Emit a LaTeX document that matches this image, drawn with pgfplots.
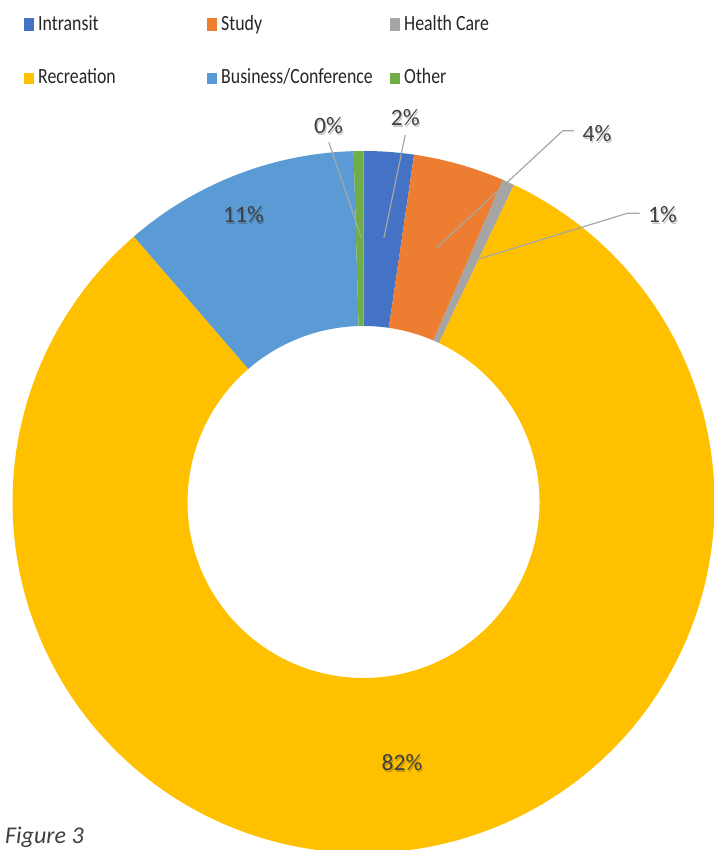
\documentclass[border=0pt]{standalone}
\usepackage{fontspec}
\setmainfont{Carlito}
\usepackage{pgfplots}
\usepackage{pgfplotstable}
\pgfplotsset{compat=1.18}

\definecolor{slice0}{HTML}{4472C4}
\definecolor{slice1}{HTML}{ED7D31}
\definecolor{slice2}{HTML}{A5A5A5}
\definecolor{slice3}{HTML}{FFC000}
\definecolor{slice4}{HTML}{5B9BD5}
\definecolor{slice5}{HTML}{70AD47}
\definecolor{lbl}{HTML}{404040}
\definecolor{legtxt}{HTML}{262626}
\definecolor{leader}{HTML}{A6A6A6}

\pgfplotstableread[col sep=comma]{
name,value
Intransit,2.3
Study,4.2
Health Care,0.55
Recreation,81.6
Business/Conference,10.9
Other,0.45
}\datatable

\newcommand\plabel[3]{%
  \node[inner sep=0, text=black, opacity=0.22, font=\fontsize{23.5}{28}\selectfont] at ([xshift=1.2pt,yshift=-1.6pt]axis cs:#1,#2) {#3};
  \node[inner sep=0, text=lbl, font=\fontsize{23.5}{28}\selectfont] at (axis cs:#1,#2) {#3};
}
\newcommand\legtext[3]{%
  \node[inner sep=0, anchor=base west, text=legtxt, font=\fontsize{17.8}{21}\selectfont, yscale=1.22] at (axis cs:#1,#2) {#3};
}

\begin{document}
\def\cum{0}
\pgfplotsforeachungrouped \i in {0,...,5}{%
  \pgfplotstablegetelem{\i}{value}\of\datatable
  \let\v\pgfplotsretval
  \pgfmathsetmacro\sA{90-3.6*\cum}%
  \pgfmathsetmacro\cum{\cum+\v}%
  \pgfmathsetmacro\sB{90-3.6*\cum}%
  \expandafter\xdef\csname sliceA\i\endcsname{\sA}%
  \expandafter\xdef\csname sliceB\i\endcsname{\sB}%
}
\begin{tikzpicture}
\begin{axis}[
  at={(0,0)}, anchor=south west,
  scale only axis, width=709pt, height=850pt,
  xmin=0, xmax=709, ymin=0, ymax=850,
  enlargelimits=false,
  axis lines=none, ticks=none,
  clip=false,
]
\pgfplotsinvokeforeach{0,...,5}{
  \fill[color=slice#1]
    (axis cs:{359+351*cos(\csname sliceA#1\endcsname)},{348+351*sin(\csname sliceA#1\endcsname)})
    arc[start angle=\csname sliceA#1\endcsname, end angle=\csname sliceB#1\endcsname, radius=351pt]
    -- (axis cs:{359+176*cos(\csname sliceB#1\endcsname)},{348+176*sin(\csname sliceB#1\endcsname)})
    arc[start angle=\csname sliceB#1\endcsname, end angle=\csname sliceA#1\endcsname, radius=176pt]
    -- cycle;
}
% leader lines
\draw[leader, line width=1.2pt] (axis cs:324.3,707.7) -- (axis cs:356.7,612.7);
\draw[leader, line width=1.2pt] (axis cs:400.7,715) -- (axis cs:379.3,611.7);
\draw[leader, line width=1.2pt] (axis cs:569.3,719.3) -- (axis cs:558.3,719.3) -- (axis cs:432.3,602.3);
\draw[leader, line width=1.2pt] (axis cs:635,636.7) -- (axis cs:622.7,636.7) -- (axis cs:473.3,590.7);
% data labels
\plabel{324}{724.2}{0\%}
\plabel{400.8}{732}{2\%}
\plabel{592.5}{716.5}{4\%}
\plabel{658}{635.5}{1\%}
\plabel{239}{635}{11\%}
\plabel{397.5}{87}{82\%}
% legend
\fill[slice0] (axis cs:19.3,819.3) rectangle (axis cs:29.3,831.7);
\fill[slice1] (axis cs:202,819.3) rectangle (axis cs:212,831.7);
\fill[slice2] (axis cs:385,819.3) rectangle (axis cs:395,831.7);
\fill[slice3] (axis cs:19.3,766) rectangle (axis cs:29.3,776.7);
\fill[slice4] (axis cs:202,766) rectangle (axis cs:212,776.7);
\fill[slice5] (axis cs:385,766) rectangle (axis cs:395,776.7);
\legtext{33.5}{819.3}{Intransit}
\legtext{216.5}{819.3}{Study}
\legtext{399.5}{819.3}{Health Care}
\legtext{33.5}{766.7}{Recreation}
\legtext{216.5}{766.7}{Business/Conference}
\legtext{399.5}{766.7}{Other}
\node[inner sep=0, anchor=base west, text=lbl, font=\fontsize{24}{28}\selectfont\itshape] at (axis cs:0.5,6.5) {Figure 3};
\end{axis}
\pgfresetboundingbox
\path[use as bounding box] (0,0) rectangle (709pt,850pt);
\end{tikzpicture}
\end{document}
